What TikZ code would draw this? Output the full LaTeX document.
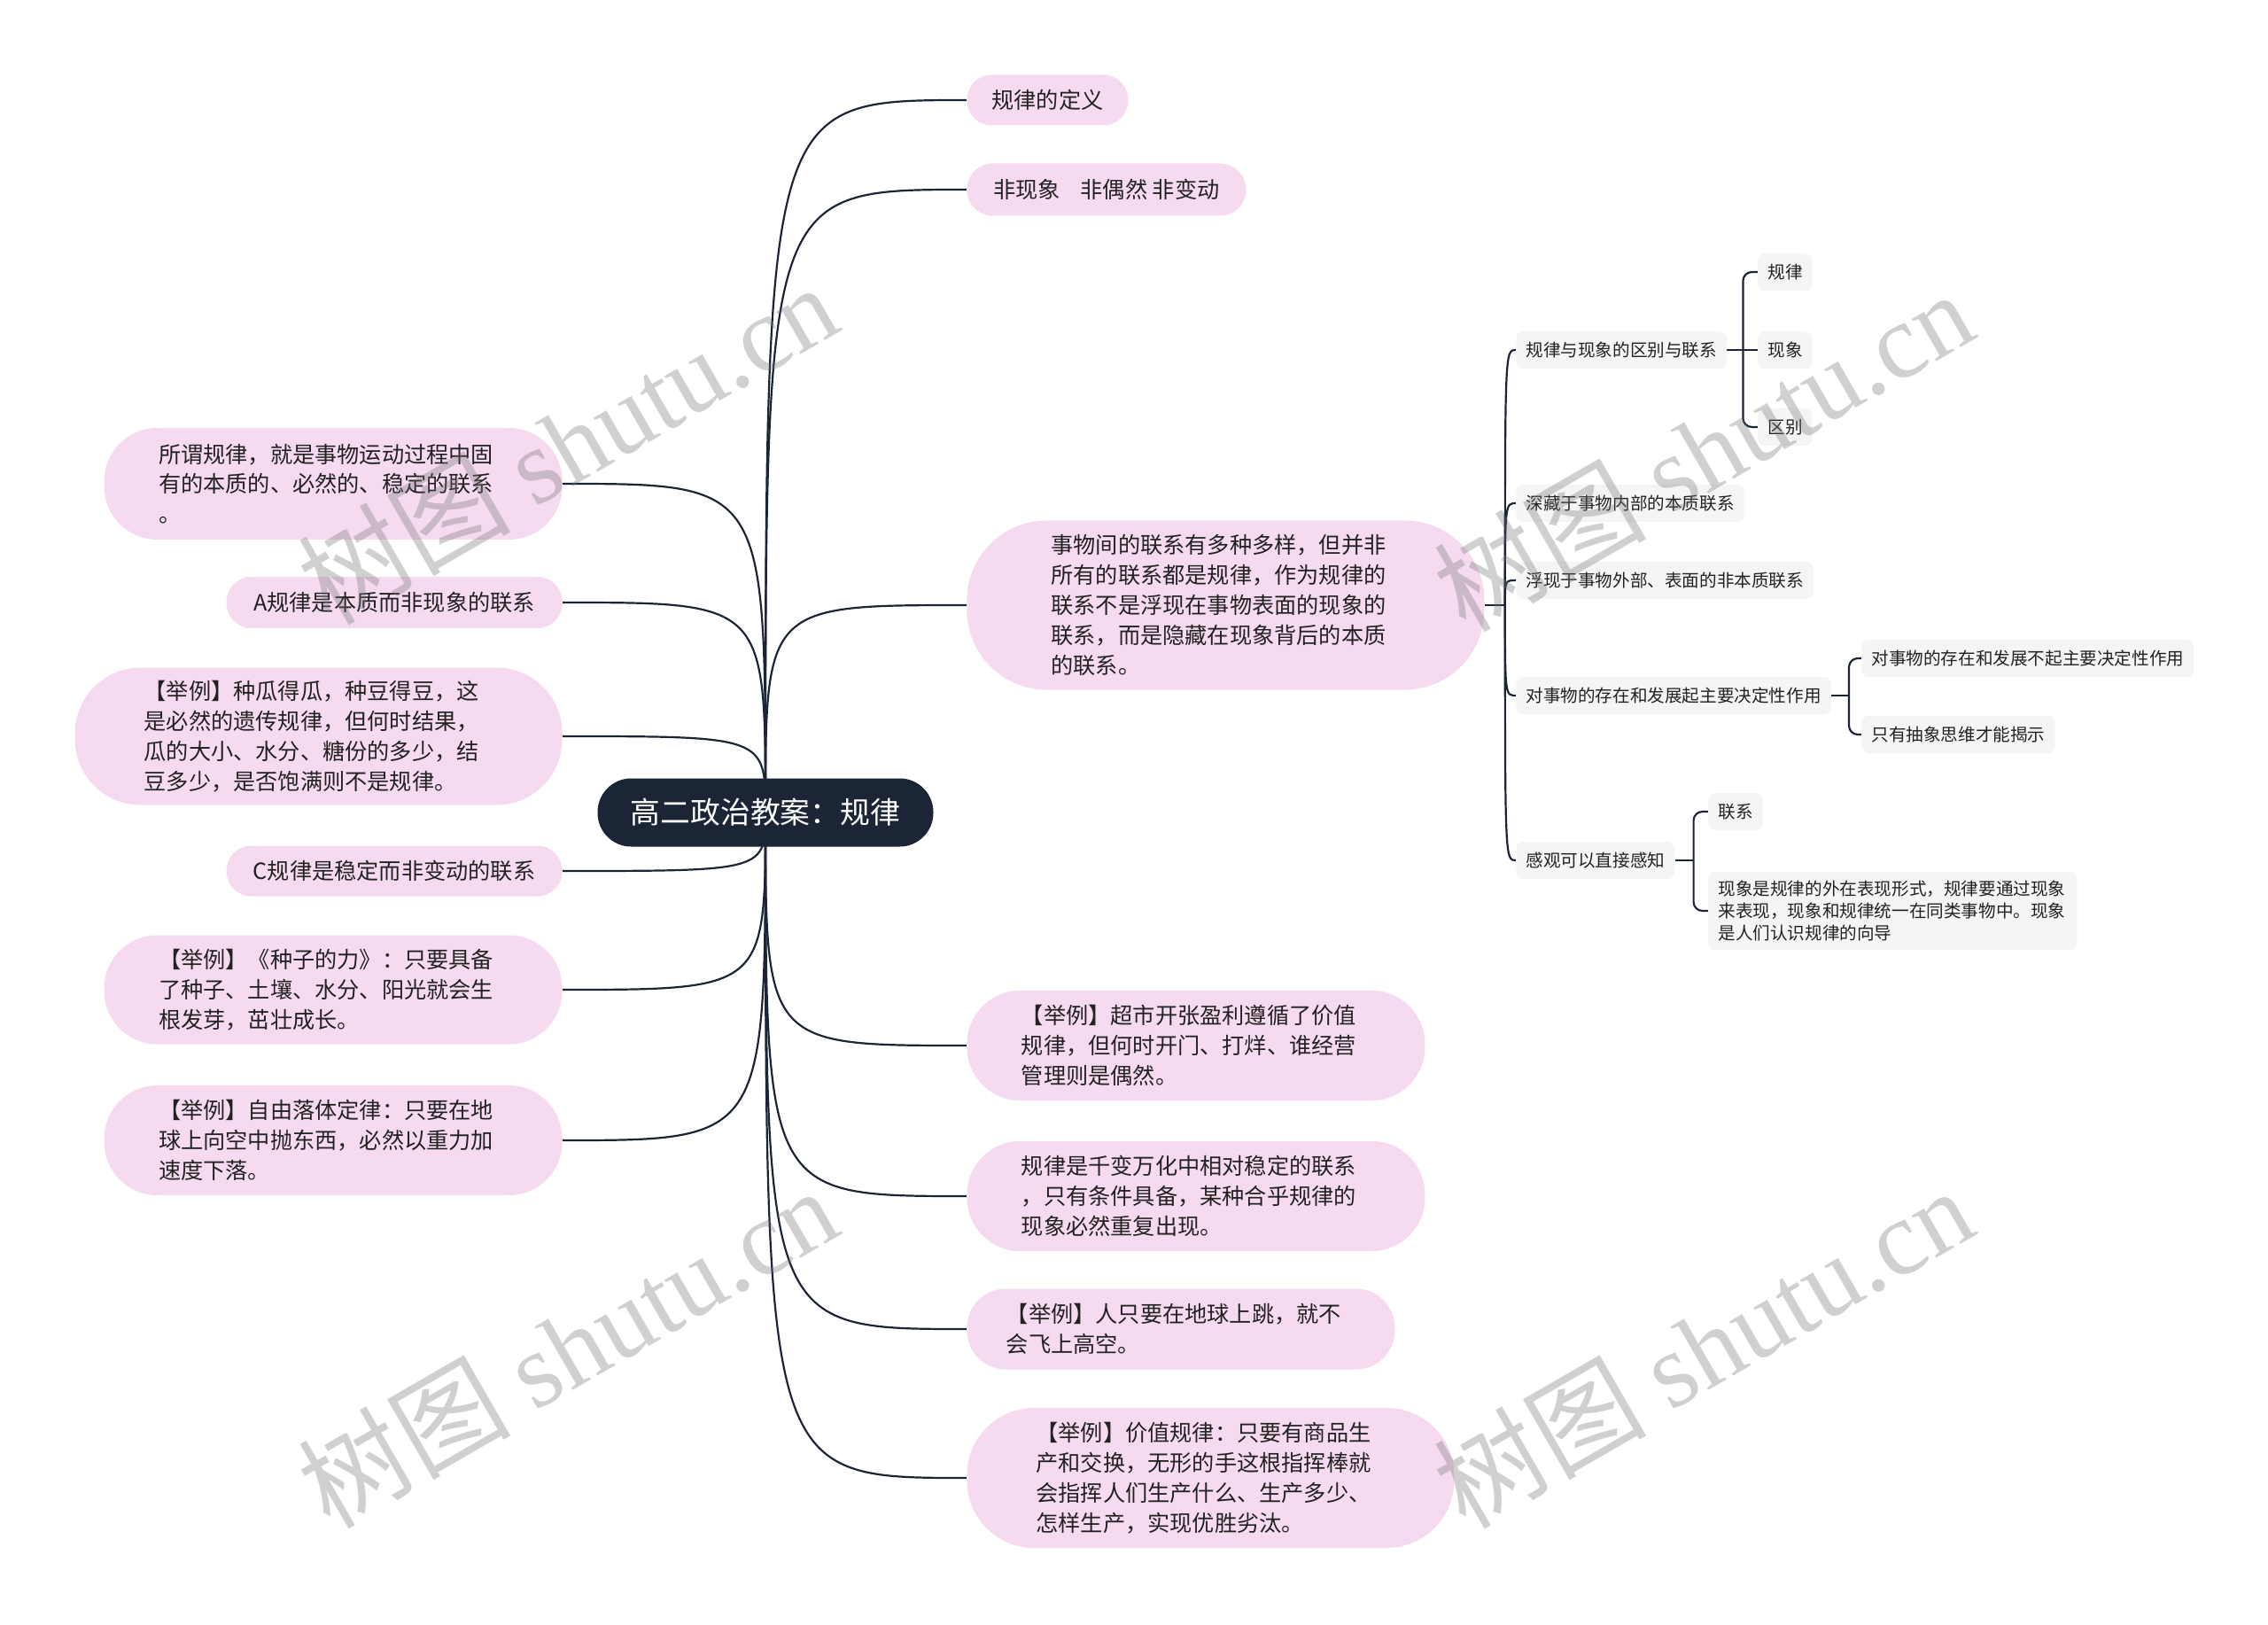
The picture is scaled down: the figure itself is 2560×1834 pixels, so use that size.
\documentclass[tikz,border=0pt]{standalone}
\usepackage{fontspec}
\setmainfont{Noto Sans CJK SC}
\newfontfamily\wmserif{Liberation Serif}
\usetikzlibrary{backgrounds}
\definecolor{pinkc}{RGB}{246,219,240}
\definecolor{grayc}{RGB}{245,245,245}
\definecolor{navy}{RGB}{27,37,54}
\definecolor{linec}{RGB}{27,37,54}
\definecolor{txt}{RGB}{34,34,34}
\begin{document}
\begin{tikzpicture}[x=0.5pt,y=-0.5pt,
  conn/.style={draw=linec,line width=1.1pt},
  pk/.style={fill=pinkc,text=txt,font=\fontsize{12.6}{16.9}\selectfont,inner sep=0pt,align=left},
  pkm/.style={pk,text width=197pt},
  gy/.style={fill=grayc,text=txt,font=\fontsize{9.8}{12.65}\selectfont,inner xsep=5.5pt,inner ysep=0pt,minimum height=21pt,rounded corners=4pt,anchor=west,align=left},
  wm/.style={text=black!55,opacity=0.33,font=\fontsize{60}{60}\selectfont,rotate=30}]
\path[use as bounding box] (0,0) rectangle (2560,1834);

% centre
\node[fill=navy,text=white,font=\fontsize{16.9}{20}\selectfont,minimum width=189.5pt,minimum height=38.5pt,rounded corners=19pt,inner sep=0pt] (C) at (864,917) {高二政治教案：规律};

% right branch
\node[pk,anchor=west,minimum width=91pt,minimum height=28.5pt,rounded corners=14pt] (R1) at (1091,113) {规律的定义};
\node[pk,anchor=west,minimum width=157.5pt,minimum height=29.5pt,rounded corners=14.5pt] (R2) at (1091,214) {非现象\hspace{0.9em}非偶然 非变动};
\node[pkm,anchor=west,minimum width=292pt,minimum height=95.5pt,rounded corners=45pt] (R3) at (1091,683) {事物间的联系有多种多样，但并非\\所有的联系都是规律，作为规律的\\联系不是浮现在事物表面的现象的\\联系，而是隐藏在现象背后的本质\\的联系。};
\node[pkm,anchor=west,minimum width=258.5pt,minimum height=62pt,rounded corners=30pt] (R4) at (1091,1180) {【举例】超市开张盈利遵循了价值\\规律，但何时开门、打烊、谁经营\\管理则是偶然。};
\node[pkm,anchor=west,minimum width=258.5pt,minimum height=62pt,rounded corners=30pt] (R5) at (1091,1350) {规律是千变万化中相对稳定的联系\\，只有条件具备，某种合乎规律的\\现象必然重复出现。};
\node[pkm,anchor=west,minimum width=241.5pt,minimum height=45.5pt,rounded corners=22pt] (R6) at (1091,1500) {【举例】人只要在地球上跳，就不\\会飞上高空。};
\node[pkm,anchor=west,minimum width=275pt,minimum height=79pt,rounded corners=38pt] (R7) at (1091,1668) {【举例】价值规律：只要有商品生\\产和交换，无形的手这根指挥棒就\\会指挥人们生产什么、生产多少、\\怎样生产，实现优胜劣汰。};

% left branch
\node[pkm,anchor=east,minimum width=258.5pt,minimum height=63pt,rounded corners=30pt] (L1) at (635,546) {所谓规律，就是事物运动过程中固\\有的本质的、必然的、稳定的联系\\。};
\node[pk,anchor=east,minimum width=189.5pt,minimum height=29pt,rounded corners=14pt] (L2) at (635,680) {A规律是本质而非现象的联系};
\node[pkm,anchor=east,minimum width=275pt,minimum height=77.5pt,rounded corners=37pt] (L3) at (635,831) {【举例】种瓜得瓜，种豆得豆，这\\是必然的遗传规律，但何时结果，\\瓜的大小、水分、糖份的多少，结\\豆多少，是否饱满则不是规律。};
\node[pk,anchor=east,minimum width=189.5pt,minimum height=28.5pt,rounded corners=14pt] (L4) at (635,983) {C规律是稳定而非变动的联系};
\node[pkm,anchor=east,minimum width=258.5pt,minimum height=61.5pt,rounded corners=30pt] (L5) at (635,1117) {【举例】《种子的力》：只要具备\\了种子、土壤、水分、阳光就会生\\根发芽，茁壮成长。};
\node[pkm,anchor=east,minimum width=258.5pt,minimum height=62pt,rounded corners=30pt] (L6) at (635,1287) {【举例】自由落体定律：只要在地\\球上向空中抛东西，必然以重力加\\速度下落。};

% grey sub-branches
\node[gy] (G1) at (1711,395) {规律与现象的区别与联系};
\node[gy] (G2) at (1711,568) {深藏于事物内部的本质联系};
\node[gy] (G3) at (1711,655) {浮现于事物外部、表面的非本质联系};
\node[gy] (G4) at (1711,785) {对事物的存在和发展起主要决定性作用};
\node[gy] (G5) at (1711,971) {感观可以直接感知};
\node[gy] (G1a) at (1984,307) {规律};
\node[gy] (G1b) at (1984,395) {现象};
\node[gy] (G1c) at (1984,482) {区别};
\node[gy] (G4a) at (2101,743) {对事物的存在和发展不起主要决定性作用};
\node[gy] (G4b) at (2101,829) {只有抽象思维才能揭示};
\node[gy] (G5a) at (1928,916) {联系};
\node[gy,text width=197pt,inner ysep=5pt] (G5b) at (1928,1028) {现象是规律的外在表现形式，规律要通过现象\\来表现，现象和规律统一在同类事物中。现象\\是人们认识规律的向导};

\coordinate (j3) at ([xshift=11.5pt]R3.east);
\coordinate (j1) at ([xshift=9pt]G1.east);
\coordinate (j4) at ([xshift=10pt]G4.east);
\coordinate (j5) at ([xshift=10.5pt]G5.east);

\begin{scope}[on background layer]
\fill[white] (0,0) rectangle (2560,1834);
\foreach \n in {R1,R2,R3,R4,R5,R6,R7}
  \draw[conn] (C.center) .. controls (C.center |- \n.west) .. (\n.west);
\foreach \n in {L1,L2,L3,L4,L5,L6}
  \draw[conn] (C.center) .. controls (C.center |- \n.east) .. (\n.east);
\draw[conn] (R3.east) -- (j3);
\foreach \n in {G1,G2,G3,G4,G5}
  \draw[conn] (j3) .. controls (j3 |- \n.west) .. (\n.west);
\draw[conn] (G1.east) -- (G1b.west);
\draw[conn,rounded corners=5pt] (j1) |- (G1a.west);
\draw[conn,rounded corners=5pt] (j1) |- (G1c.west);
\draw[conn] (G4.east) -- (j4);
\draw[conn,rounded corners=5pt] (j4) |- (G4a.west);
\draw[conn,rounded corners=5pt] (j4) |- (G4b.west);
\draw[conn] (G5.east) -- (j5);
\draw[conn,rounded corners=5pt] (j5) |- (G5a.west);
\draw[conn,rounded corners=5pt] (j5) |- (G5b.west);
\end{scope}

% watermarks
\node[wm] (W1) at (640,500) {树图 {\wmserif shutu.cn}};
\node[wm] (W2) at (1922,508) {树图 {\wmserif shutu.cn}};
\node[wm] (W3) at (640,1520) {树图 {\wmserif shutu.cn}};
\node[wm] (W4) at (1922,1520) {树图 {\wmserif shutu.cn}};
\end{tikzpicture}
\end{document}
